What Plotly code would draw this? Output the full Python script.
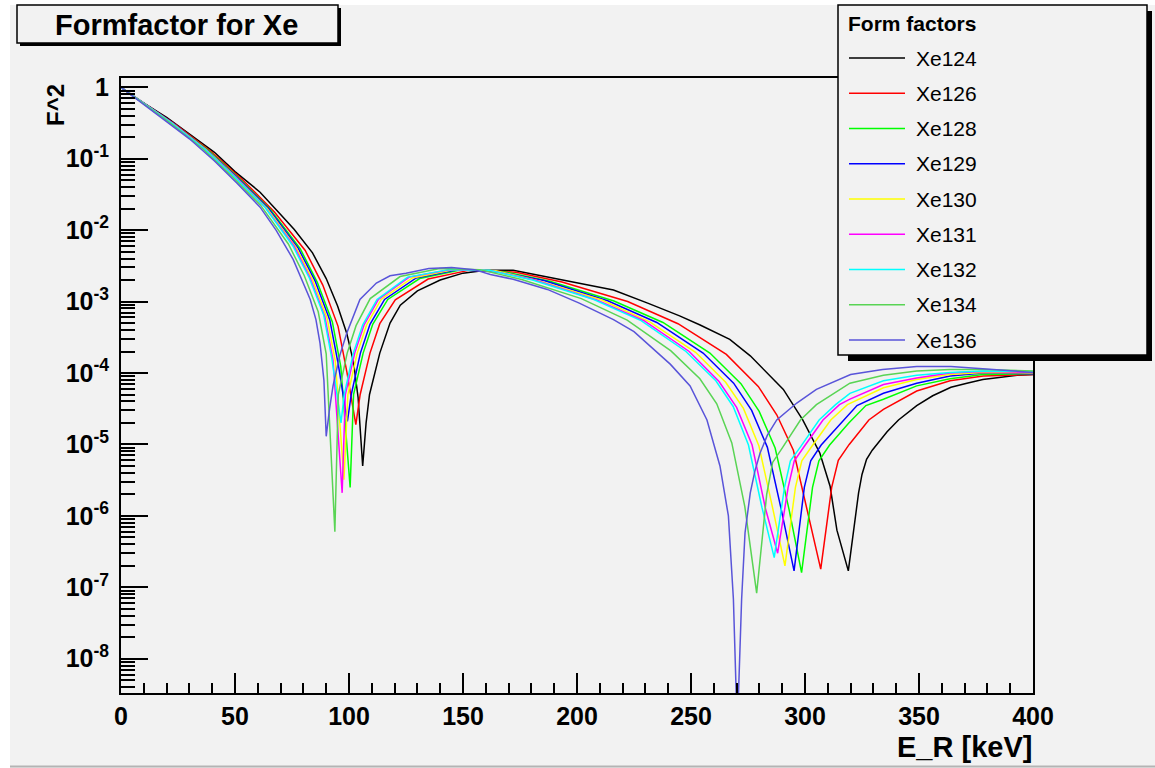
import plotly.graph_objects as go

# ---- nuclear recoil energy [keV] and squared form factor for each isotope ----
e_xe124 = [0, 6, 20, 30, 41, 50, 61, 70, 76, 84, 90, 95, 99, 102, 104, 106, 107.5, 109, 113.5, 118,
           122.5, 130, 140, 150, 160, 172, 187, 201, 216, 231, 245, 254, 267, 276, 290.5, 299, 306.5, 311, 314, 319,
           321.5, 323.5, 325, 327, 329.5, 332, 336, 341, 349, 356, 364, 371, 378, 386, 393, 400]
f2_xe124 = [1.0, 0.72, 0.38, 0.22, 0.123, 0.066, 0.034, 0.0166, 0.0102, 4.8e-3, 2.1e-3, 8.7e-4, 3.6e-4, 1.41e-4,
            4.5e-5, 5.0e-6, 2.0e-5, 5.0e-5, 1.9e-4, 5.0e-4, 8.9e-4, 1.41e-3, 2.0e-3, 2.5e-3, 2.75e-3, 2.75e-3,
            2.2e-3, 1.82e-3, 1.45e-3, 9.5e-4, 6.3e-4, 4.7e-4, 2.95e-4, 1.74e-4, 5.9e-5, 2.2e-5, 7.6e-6, 2.6e-6,
            6.3e-7, 1.7e-7, 6.3e-7, 2.1e-6, 3.8e-6, 6.2e-6, 8.3e-6, 1.05e-5, 1.5e-5, 2.2e-5, 3.5e-5, 4.8e-5,
            6.3e-5, 7.2e-5, 8.1e-5, 8.7e-5, 9.3e-5, 9.5e-5]

e_xe126 = [0, 9.6, 24, 39.4, 52.9, 67.3, 80.8, 88.5, 95.2, 99.1, 103, 104.9, 109.2, 113.5, 120.3, 134.7, 153.9,
           173.2, 193.4, 222.2, 244.3, 265.5, 279.5, 287.6, 294.9, 301.1, 306.9, 311.7, 314.6, 319.4, 328, 334.4,
           349, 363.6, 378.2, 400]
f2_xe126 = [1.0, 0.61, 0.30, 0.127, 0.052, 0.018, 5.2e-3, 1.7e-3, 4.5e-4, 1.02e-4, 1.9e-5, 5.0e-5, 1.9e-4,
            4.9e-4, 1.06e-3, 2.07e-3, 2.8e-3, 2.57e-3, 1.88e-3, 1.0e-3, 4.9e-4, 1.82e-4, 6.5e-5, 2.6e-5, 8.3e-6,
            1.17e-6, 1.8e-7, 2.5e-6, 6.0e-6, 1.0e-5, 2.2e-5, 3.1e-5, 5.6e-5, 7.8e-5, 9.1e-5, 9.5e-5]

e_xe128 = [0, 9.4, 23.4, 38.4, 51.5, 65.5, 78.6, 86.1, 92.7, 96.4, 100.5, 102, 106.2, 110.4, 117, 131, 149.8,
           168.5, 188.1, 216.2, 237.7, 258.3, 271.9, 279.9, 286.9, 293, 298.5, 303.3, 306.1, 310.8, 319.2, 326.7,
           334.4, 349, 363.6, 378, 400]
f2_xe128 = [1.0, 0.62, 0.30, 0.13, 0.054, 0.0195, 5.5e-3, 1.86e-3, 5.2e-4, 1.23e-4, 2.5e-6, 5.0e-5, 1.9e-4,
            4.8e-4, 1.07e-3, 2.1e-3, 2.8e-3, 2.6e-3, 1.93e-3, 1.02e-3, 5.1e-4, 1.9e-4, 7.1e-5, 2.9e-5, 8.9e-6,
            1.23e-6, 1.6e-7, 2.5e-6, 5.9e-6, 9.8e-6, 2.0e-5, 3.5e-5, 4.3e-5, 6.6e-5, 8.3e-5, 9.5e-5, 9.8e-5]

e_xe129 = [0, 9.3, 23.1, 37.9, 50.9, 64.8, 77.7, 85.1, 91.6, 95.3, 99.3, 101, 105, 109.2, 115.6, 129.5, 148,
           166.5, 185.9, 213.7, 235, 255.3, 268.7, 276.6, 283.5, 289.5, 295.2, 299.7, 302.5, 307.1, 315.4, 322.8,
           334.4, 349, 363.6, 378, 400]
f2_xe129 = [1.0, 0.62, 0.31, 0.13, 0.055, 0.020, 5.6e-3, 1.95e-3, 5.5e-4, 1.32e-4, 2.1e-5, 5.0e-5, 1.9e-4,
            4.8e-4, 1.07e-3, 2.14e-3, 2.8e-3, 2.6e-3, 1.95e-3, 1.02e-3, 5.1e-4, 1.9e-4, 7.2e-5, 3.0e-5, 9.1e-6,
            1.26e-6, 1.7e-7, 2.5e-6, 5.9e-6, 9.8e-6, 1.9e-5, 3.5e-5, 5.2e-5, 7.2e-5, 9.1e-5, 1.0e-4, 9.8e-5]

e_xe130 = [0, 9.1, 22.8, 37.4, 50.2, 63.9, 76.7, 84, 90.4, 94, 97.8, 99.5, 103.6, 107.7, 114.1, 127.8, 146.1,
           164.3, 183.5, 210.9, 231.9, 252, 265.2, 273, 279.8, 285.8, 291.2, 295.8, 298.6, 303.1, 311.3, 318.6,
           334.4, 349, 363.6, 378, 400]
f2_xe130 = [1.0, 0.62, 0.31, 0.133, 0.056, 0.0204, 5.8e-3, 2.04e-3, 5.9e-4, 1.45e-4, 3.2e-6, 5.0e-5, 1.9e-4,
            4.7e-4, 1.07e-3, 2.14e-3, 2.8e-3, 2.7e-3, 1.95e-3, 1.05e-3, 5.2e-4, 1.95e-4, 7.4e-5, 3.2e-5, 9.5e-6,
            1.29e-6, 2.0e-7, 2.5e-6, 5.9e-6, 9.5e-6, 2.2e-5, 3.6e-5, 6.2e-5, 8.1e-5, 9.5e-5, 1.02e-4, 1.0e-4]

e_xe131 = [0, 9, 22.6, 37, 49.7, 63.2, 75.9, 83.1, 89.4, 93, 97, 98.4, 102.5, 106.6, 112.9, 126.4, 144.5, 162.5,
           181.5, 208.6, 229.4, 249.2, 262.3, 270, 276.8, 282.6, 288, 292.6, 295.3, 299.8, 307.9, 315.1, 319.7,
           334.4, 349, 363.6, 378, 400]
f2_xe131 = [1.0, 0.62, 0.31, 0.135, 0.057, 0.021, 6.0e-3, 2.1e-3, 6.2e-4, 1.51e-4, 2.1e-6, 5.0e-5, 1.9e-4,
            4.7e-4, 1.07e-3, 2.2e-3, 2.8e-3, 2.7e-3, 2.0e-3, 1.05e-3, 5.4e-4, 2.0e-4, 7.6e-5, 3.3e-5, 9.8e-6,
            1.29e-6, 3.0e-7, 2.5e-6, 5.9e-6, 9.5e-6, 2.2e-5, 3.6e-5, 4.3e-5, 6.9e-5, 8.5e-5, 1.0e-4, 1.05e-4,
            1.02e-4]

e_xe132 = [0, 9, 22.5, 36.8, 49.4, 62.9, 75.4, 82.6, 88.9, 92.5, 96.5, 97.9, 101.9, 106, 112.3, 125.7, 143.7,
           161.6, 180.5, 207.4, 228.1, 247.8, 260.9, 268.5, 275.2, 281.1, 286.5, 291, 293.6, 298.1, 306.2, 313.4,
           319.7, 334.4, 349, 363.6, 378, 400]
f2_xe132 = [1.0, 0.62, 0.31, 0.135, 0.057, 0.0214, 6.0e-3, 2.14e-3, 6.5e-4, 1.58e-4, 2.0e-5, 5.0e-5, 1.9e-4,
            4.7e-4, 1.07e-3, 2.2e-3, 2.8e-3, 2.75e-3, 2.0e-3, 1.07e-3, 5.4e-4, 2.0e-4, 7.8e-5, 3.4e-5, 9.8e-6,
            1.32e-6, 2.6e-7, 2.5e-6, 5.9e-6, 9.3e-6, 2.2e-5, 3.6e-5, 5.2e-5, 7.8e-5, 9.3e-5, 1.02e-4, 1.07e-4,
            1.05e-4]

e_xe134 = [0, 8.7, 21.9, 35.8, 48.1, 61.2, 73.4, 80.4, 86.5, 90, 93.8, 95.3, 99.2, 103.1, 109.3, 122.4, 139.8,
           157.3, 175.7, 201.9, 222, 241.2, 253.9, 261.3, 267.9, 273.6, 278.8, 283.2, 285.8, 290.2, 298, 305,
           319.7, 334.4, 349, 363.6, 378, 400]
f2_xe134 = [1.0, 0.63, 0.31, 0.138, 0.059, 0.0224, 6.4e-3, 2.3e-3, 7.2e-4, 1.86e-4, 6.0e-7, 5.0e-5, 1.9e-4,
            4.6e-4, 1.1e-3, 2.24e-3, 2.9e-3, 2.8e-3, 2.04e-3, 1.1e-3, 5.5e-4, 2.04e-4, 8.3e-5, 3.7e-5, 1.05e-5,
            1.35e-6, 8.3e-8, 2.0e-6, 5.6e-6, 9.1e-6, 2.2e-5, 3.6e-5, 7.2e-5, 9.3e-5, 1.07e-4, 1.12e-4, 1.12e-4,
            1.07e-4]

e_xe136 = [0, 5, 17, 30, 41, 51, 61, 68, 75.5, 80, 83, 85.5, 87.3, 89, 90, 91.5, 93, 96, 99, 104.8, 112, 118,
           125, 135, 145, 155, 162, 172, 187, 201, 216, 225, 232, 241, 249.6, 257, 262.7, 266.4, 268.6, 270.3,
           272.2, 273.7, 276, 278, 280.3, 283.5, 287.6, 296.4, 305, 320, 334, 349, 364, 378, 392, 400]
f2_xe136 = [1.0, 0.76, 0.39, 0.19, 0.093, 0.045, 0.021, 0.01, 3.9e-3, 1.78e-3, 1.07e-3, 5.6e-4, 2.6e-4, 7.9e-5,
            1.3e-5, 3.2e-5, 6.6e-5, 1.78e-4, 3.6e-4, 1.07e-3, 1.82e-3, 2.3e-3, 2.5e-3, 2.9e-3, 3.0e-3, 2.8e-3,
            2.4e-3, 2.05e-3, 1.48e-3, 9.5e-4, 5.6e-4, 3.8e-4, 2.4e-4, 1.32e-4, 6.6e-5, 2.2e-5, 5.0e-6, 1.0e-6,
            6.8e-8, 1.0e-9, 6.8e-8, 5.8e-7, 2.1e-6, 4.2e-6, 7.6e-6, 1.35e-5, 2.2e-5, 3.8e-5, 5.9e-5, 9.5e-5,
            1.12e-4, 1.23e-4, 1.23e-4, 1.15e-4, 1.07e-4, 1.02e-4]

isotopes = ["Xe124", "Xe126", "Xe128", "Xe129", "Xe130", "Xe131", "Xe132", "Xe134", "Xe136"]
energies = [e_xe124, e_xe126, e_xe128, e_xe129, e_xe130, e_xe131, e_xe132, e_xe134, e_xe136]
formfactors = [f2_xe124, f2_xe126, f2_xe128, f2_xe129, f2_xe130, f2_xe131, f2_xe132, f2_xe134, f2_xe136]
colors = ["#000000", "#ff0000", "#00ff00", "#0000ff", "#ffff00", "#ff00ff", "#00ffff", "#59d454", "#5954d9"]

y_tick_vals = [1e-8, 1e-7, 1e-6, 1e-5, 1e-4, 1e-3, 1e-2, 1e-1, 1]
y_tick_text = ["10<sup>-8</sup>", "10<sup>-7</sup>", "10<sup>-6</sup>", "10<sup>-5</sup>", "10<sup>-4</sup>",
               "10<sup>-3</sup>", "10<sup>-2</sup>", "10<sup>-1</sup>", "1"]

# ---- canvas geometry (pixels) ----
W, H = 1155, 768
FL, FR, FT, FB = 121, 1033, 78, 693
BG = "#f2f2f2"
FONT = "Liberation Sans, Arial, Helvetica, sans-serif"


def px(x):
    return (x - FL) / (FR - FL)


def py(y):
    return (FB - y) / (FB - FT)


fig = go.Figure()
for name, e, f2, c in zip(isotopes, energies, formfactors, colors):
    fig.add_trace(go.Scatter(x=e, y=f2, mode="lines", name=name,
                             line=dict(color=c, width=1.5), showlegend=False))

minor_vals = [k * 10.0 ** n for n in range(-9, 1) for k in range(2, 10)]

fig.update_layout(
    width=W, height=H,
    margin=dict(l=FL, r=W - FR, t=FT, b=H - FB),
    paper_bgcolor=BG, plot_bgcolor=BG,
    font=dict(family=FONT, color="black"),
    xaxis=dict(range=[0, 400], showgrid=False, zeroline=False, showline=True, linecolor="black",
               linewidth=2, mirror=True, ticks="inside", ticklen=20, tickwidth=2, tickcolor="black",
               tick0=0, dtick=50, ticklabelstandoff=0,
               tickfont=dict(size=25, weight="bold", family=FONT),
               minor=dict(dtick=10, ticks="inside", ticklen=10, tickwidth=1.5, tickcolor="black",
                          showgrid=False)),
    yaxis=dict(type="log", range=[-8.48, 0.13], showgrid=False, zeroline=False, showline=True,
               linecolor="black", linewidth=2, mirror=True, ticks="inside", ticklen=27, tickwidth=2,
               tickcolor="black", tickvals=y_tick_vals, ticktext=y_tick_text, ticklabelstandoff=5,
               tickfont=dict(size=25, weight="bold", family=FONT),
               minor=dict(tickvals=minor_vals, ticks="inside", ticklen=14, tickwidth=1.5,
                          tickcolor="black", showgrid=False)),
)

shapes = []
annotations = []

# canvas edge: white margin on the left/top, thin border at the bottom
shapes.append(dict(type="rect", xref="paper", yref="paper", x0=px(0), x1=px(10), y0=py(H), y1=py(0),
                   fillcolor="white", line=dict(width=0), layer="below"))
shapes.append(dict(type="rect", xref="paper", yref="paper", x0=px(0), x1=px(W), y0=py(5), y1=py(0),
                   fillcolor="white", line=dict(width=0), layer="below"))
shapes.append(dict(type="line", xref="paper", yref="paper", x0=px(10), x1=px(W), y0=py(766.5), y1=py(766.5),
                   line=dict(color="#b4b4b4", width=2), layer="below"))

# title pave with drop shadow
shapes.append(dict(type="rect", xref="paper", yref="paper", x0=px(20), x1=px(341), y0=py(46), y1=py(8),
                   fillcolor="black", line=dict(width=0), layer="above"))
shapes.append(dict(type="rect", xref="paper", yref="paper", x0=px(17), x1=px(338), y0=py(43), y1=py(5),
                   fillcolor=BG, line=dict(color="black", width=1.5), layer="above"))
annotations.append(dict(text="Formfactor for Xe", xref="paper", yref="paper", x=px(176), y=py(25),
                        xanchor="center", yanchor="middle", showarrow=False,
                        font=dict(size=29, weight="bold", family=FONT, color="black")))

# legend pave with drop shadow
shapes.append(dict(type="rect", xref="paper", yref="paper", x0=px(848), x1=px(1152), y0=py(361), y1=py(11),
                   fillcolor="black", line=dict(width=0), layer="above"))
shapes.append(dict(type="rect", xref="paper", yref="paper", x0=px(838), x1=px(1147), y0=py(355), y1=py(5),
                   fillcolor=BG, line=dict(color="black", width=1.5), layer="above"))
annotations.append(dict(text="Form factors", xref="paper", yref="paper", x=px(846), y=py(23),
                        xanchor="left", yanchor="middle", showarrow=False,
                        font=dict(size=21, weight="bold", family=FONT, color="black")))
for i, (name, c) in enumerate(zip(isotopes, colors)):
    row = 58 + 35.25 * i
    shapes.append(dict(type="line", xref="paper", yref="paper", x0=px(849), x1=px(905), y0=py(row),
                       y1=py(row), line=dict(color=c, width=1.5), layer="above"))
    annotations.append(dict(text=name, xref="paper", yref="paper", x=px(914), y=py(row),
                            xanchor="left", yanchor="middle", showarrow=False,
                            font=dict(size=21, family=FONT, color="black")))

# axis titles
annotations.append(dict(text="F^2", xref="paper", yref="paper", x=px(55), y=py(105), textangle=-90,
                        xanchor="center", yanchor="middle", showarrow=False,
                        font=dict(size=24, weight="bold", family=FONT, color="black")))
annotations.append(dict(text="E_R [keV]", xref="paper", yref="paper", x=px(1034), y=py(747),
                        xanchor="right", yanchor="middle", showarrow=False,
                        font=dict(size=29, weight="bold", family=FONT, color="black")))

fig.update_layout(shapes=shapes, annotations=annotations)
fig.write_html("out.html")
